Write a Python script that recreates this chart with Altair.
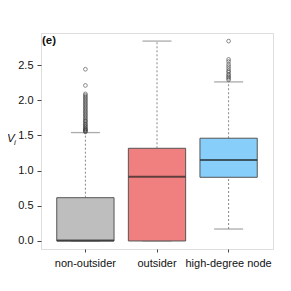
import altair as alt
import pandas as pd

categories = ["non-outsider", "outsider", "high-degree node"]
lower_whisker = [0.0, 0.0, 0.17]
q1 = [0.0, 0.0, 0.905]
median = [0.005, 0.913, 1.15]
q3 = [0.615, 1.317, 1.46]
upper_whisker = [1.54, 2.84, 2.26]
fills = ["#BEBEBE", "#F08080", "#87CEFA"]

non_outsider_outliers = [1.55, 1.56, 1.57, 1.58, 1.59, 1.60, 1.62, 1.63, 1.65, 1.66,
                         1.68, 1.70, 1.71, 1.73, 1.75, 1.77, 1.79, 1.81, 1.83, 1.85,
                         1.87, 1.89, 1.91, 1.93, 1.95, 1.97, 1.99, 2.01, 2.03, 2.05,
                         2.07, 2.09, 2.21, 2.44]
high_degree_outliers = [2.29, 2.31, 2.33, 2.35, 2.37, 2.40, 2.42, 2.45, 2.48, 2.51,
                        2.55, 2.58, 2.84]
y_ticks = [0.0, 0.5, 1.0, 1.5, 2.0, 2.5]

boxes = pd.DataFrame({
    "cat": categories, "lw": lower_whisker, "q1": q1, "med": median,
    "q3": q3, "uw": upper_whisker, "fill": fills,
})
outliers = pd.DataFrame({
    "cat": ["non-outsider"] * len(non_outsider_outliers)
           + ["high-degree node"] * len(high_degree_outliers),
    "v": non_outsider_outliers + high_degree_outliers,
})

FONT = "Liberation Sans"
xscale = alt.Scale(domain=categories, paddingInner=0.2, paddingOuter=0.22)
yscale = alt.Scale(domain=[-0.114, 2.955], nice=False, zero=False)

X = alt.X("cat:N", scale=xscale, sort=categories,
          axis=alt.Axis(title=None, labelAngle=0, domain=False, ticks=True,
                        tickSize=3, tickColor="#444", labelPadding=5,
                        labelFont=FONT, labelFontSize=11, labelColor="#111"))
Y_axis = alt.Axis(title=None, values=y_ticks, format=".1f", domain=False, grid=False,
                  tickSize=4, tickColor="#444", labelPadding=4,
                  labelFont=FONT, labelFontSize=11, labelColor="#111")

base = alt.Chart(boxes)

whisk_up = base.mark_rule(color="#888", strokeDash=[2, 2], strokeWidth=1).encode(
    x=X, y=alt.Y("q3:Q", scale=yscale, axis=Y_axis), y2="uw:Q")
whisk_lo = base.mark_rule(color="#888", strokeDash=[2, 2], strokeWidth=1).encode(
    x=X, y=alt.Y("lw:Q", scale=yscale), y2="q1:Q")
cap_up = base.mark_tick(color="#888", size=29, thickness=1.3).encode(
    x=X, y=alt.Y("uw:Q", scale=yscale))
cap_lo = base.mark_tick(color="#888", size=29, thickness=1.3).encode(
    x=X, y=alt.Y("lw:Q", scale=yscale))
box = base.mark_bar(stroke="#555", strokeWidth=1).encode(
    x=X, y=alt.Y("q1:Q", scale=yscale), y2="q3:Q",
    fill=alt.Fill("fill:N", scale=None))
med = base.mark_tick(color="#222", size=57, thickness=2).encode(
    x=X, y=alt.Y("med:Q", scale=yscale))
pts = alt.Chart(outliers).mark_point(shape="circle", filled=False, color="#333",
                                     size=14, strokeWidth=0.8).encode(
    x=X, y=alt.Y("v:Q", scale=yscale))

panel = alt.Chart(pd.DataFrame({"t": ["(e)"]})).mark_text(
    font=FONT, fontSize=11.5, fontWeight="bold", align="left", baseline="top",
    color="#111").encode(x=alt.value(1), y=alt.value(2), text="t:N")
vlab = alt.Chart(pd.DataFrame({"t": ["V"]})).mark_text(
    font=FONT, fontSize=11.5, fontStyle="italic", align="left", baseline="alphabetic",
    color="#111").encode(x=alt.value(-34), y=alt.value(109), text="t:N")
ilab = alt.Chart(pd.DataFrame({"t": ["i"]})).mark_text(
    font=FONT, fontSize=8, fontStyle="italic", align="left", baseline="alphabetic",
    color="#111").encode(x=alt.value(-27), y=alt.value(112), text="t:N")

chart = alt.layer(whisk_up, whisk_lo, cap_up, cap_lo, box, med, pts, panel, vlab, ilab).properties(
    width=232, height=216,
    autosize=alt.AutoSizeParams(type="none"),
    padding={"left": 33, "top": 25, "right": 10, "bottom": 30},
).configure_view(stroke="#555", strokeWidth=1).configure(background="white")

chart.save("out.html", embed_options={"renderer": "svg", "actions": False})
